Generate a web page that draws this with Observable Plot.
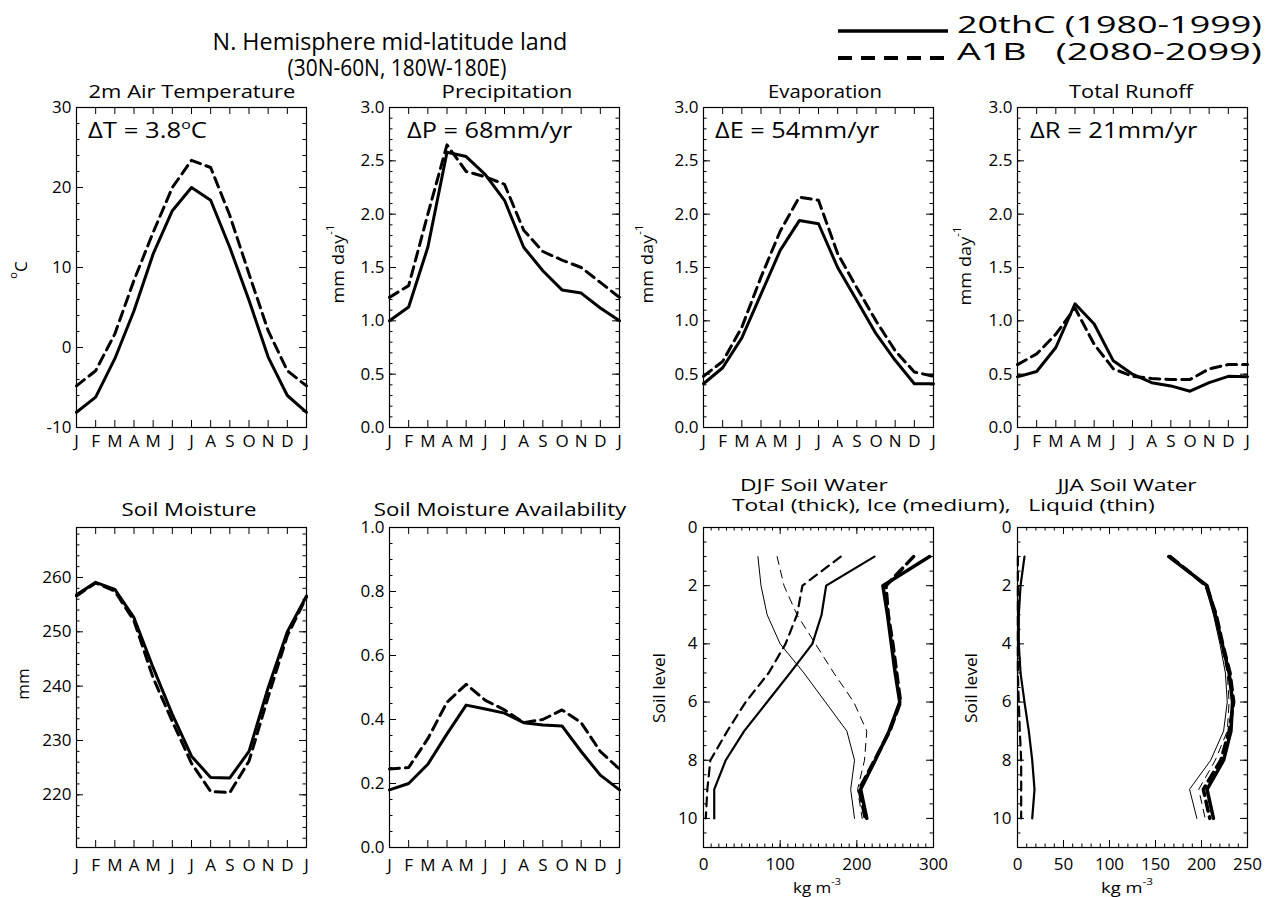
<!DOCTYPE html>
<html><head><meta charset="utf-8">
<script src="https://cdn.jsdelivr.net/npm/d3@7"></script>
<script src="https://cdn.jsdelivr.net/npm/@observablehq/plot@0.6"></script>
<style>
body{margin:0;background:#fff;}
#root{position:relative;width:1271px;height:897px;overflow:hidden;background:#fff;font-family:'Open Sans',sans-serif;}
#overlay{position:absolute;left:0;top:0;pointer-events:none;}
</style></head><body><div id="root"></div>
<script>
// ---------- data ----------
const months = ["J","F","M","A","M","J","J","A","S","O","N","D","J"];
const monthIdx = [0,1,2,3,4,5,6,7,8,9,10,11,12];
const soilLevels = [1,2,3,4,5,6,7,8,9,10];

// 2m air temperature (°C)
const temp20thC = [-8.1,-6.2,-1.4,4.6,11.7,17.1,20.0,18.4,12.5,5.9,-1.2,-6.0,-8.1];
const tempA1B   = [-4.8,-2.9,1.7,8.4,14.4,20.0,23.4,22.5,16.5,9.2,2.1,-2.9,-4.8];
// precipitation (mm/day)
const precip20thC = [1.00,1.13,1.69,2.58,2.54,2.37,2.13,1.69,1.47,1.29,1.26,1.12,1.00];
const precipA1B   = [1.22,1.33,2.00,2.65,2.40,2.35,2.28,1.85,1.65,1.57,1.50,1.36,1.22];
// evaporation (mm/day)
const evap20thC = [0.41,0.56,0.84,1.25,1.66,1.94,1.91,1.50,1.19,0.88,0.63,0.41,0.41];
const evapA1B   = [0.48,0.62,0.94,1.41,1.84,2.16,2.13,1.63,1.31,1.00,0.72,0.52,0.48];
// total runoff (mm/day)
const runoff20thC = [0.475,0.525,0.75,1.16,0.97,0.625,0.50,0.42,0.39,0.34,0.42,0.48,0.475];
const runoffA1B   = [0.59,0.69,0.875,1.12,0.78,0.55,0.48,0.46,0.45,0.45,0.55,0.59,0.59];
// soil moisture (mm)
const soil20thC = [256.8,259.1,257.8,252.6,243.4,234.8,227.1,223.2,223.1,228.0,239.7,250.0,256.6];
const soilA1B   = [256.6,259.0,257.5,252.0,241.5,233.5,225.8,220.6,220.4,226.2,238.0,249.3,256.4];
// soil moisture availability
const sma20thC = [0.18,0.20,0.26,0.355,0.445,0.433,0.42,0.39,0.383,0.38,0.30,0.226,0.18];
const smaA1B   = [0.245,0.25,0.34,0.454,0.51,0.46,0.43,0.39,0.40,0.43,0.39,0.30,0.245];
// DJF soil water by level (kg m-3)
const djfTotal20thC = [295,234,240,245,250,256,242,224,205,213];
const djfTotalA1B   = [274,238,241,247,252,257,243,223,203,211];
const djfIce20thC   = [223,160,154,142,113,83,53,29,14,14];
const djfIceA1B     = [179,129,122,107,85,55,31,9,5,3];
const djfLiq20thC   = [71,75,83,100,131,159,187,197,192,197];
const djfLiqA1B     = [96,105,122,146,170,196,213,210,201,207];
// JJA soil water by level (kg m-3)
const jjaTotal20thC = [164.5,206,215,222.5,230,233.7,232,224,206,213];
const jjaTotalA1B   = [166,205,216,223,231,235,230,221,202,209];
const jjaIce20thC   = [7.6,3.3,1.4,1.4,3.3,7.6,12.3,16,18.5,16];
const jjaIceA1B     = [0.4,0.4,0.4,0.4,0.4,1.4,2.5,4,4,4];
const jjaLiq20thC   = [164.5,204,213,220,226,228,224,210,187,195];
const jjaLiqA1B     = [165.6,205,214,221,228,230,228,215,197,204];

// ---------- layout ----------
const root = document.getElementById("root");
const ML = 60, MR = 8, MT = 8, MB = 50, FW = 230, FH = 320;
const STYLE = {fontFamily: "'Open Sans', sans-serif", fontSize: "17px", background: "transparent", color: "#000", overflow: "visible"};
const MAJ = 7, MIN = 3.5;

function place(svg, left, top) {
  svg.style.position = "absolute";
  svg.style.left = left + "px";
  svg.style.top = top + "px";
  svg.style.maxWidth = "none";
  root.appendChild(svg);
}

function inwardTicks(xMaj, xMin, yMaj, yMin) {
  const s = {stroke: "#000", strokeWidth: 1};
  return [
    Plot.tickX(xMaj, {x: d => d, insetTop: FH - MAJ, ...s}),
    Plot.tickX(xMaj, {x: d => d, insetBottom: FH - MAJ, ...s}),
    Plot.tickX(xMin, {x: d => d, insetTop: FH - MIN, ...s}),
    Plot.tickX(xMin, {x: d => d, insetBottom: FH - MIN, ...s}),
    Plot.tickY(yMaj, {y: d => d, insetRight: FW - MAJ, ...s}),
    Plot.tickY(yMaj, {y: d => d, insetLeft: FW - MAJ, ...s}),
    Plot.tickY(yMin, {y: d => d, insetRight: FW - MIN, ...s}),
    Plot.tickY(yMin, {y: d => d, insetLeft: FW - MIN, ...s})
  ];
}

function monthPanel(left, top, yDomain, yMajor, yMinor, yFmt, s20, sA1B, padX) {
  const svg = Plot.plot({
    width: FW + ML + MR, height: FH + MT + MB,
    marginLeft: ML, marginRight: MR, marginTop: MT, marginBottom: MB,
    x: {domain: [0, 12]}, y: {domain: yDomain},
    style: STYLE,
    marks: [
      ...inwardTicks(monthIdx, [], yMajor, yMinor),
      Plot.axisX(monthIdx, {tickSize: 0, tickPadding: padX, tickFormat: i => months[i], label: null}),
      Plot.axisY(yMajor, {tickSize: 0, tickPadding: 5, tickFormat: yFmt, label: null}),
      Plot.line(s20, {x: (d, i) => i, y: d => d, stroke: "#000", strokeWidth: 3}),
      Plot.line(sA1B, {x: (d, i) => i, y: d => d, stroke: "#000", strokeWidth: 3, strokeDasharray: "10,6"}),
      Plot.frame({stroke: "#000", strokeWidth: 1.2})
    ]
  });
  place(svg, left - ML, top - MT);
}

function soilPanel(left, top, xDomain, xMajor, xMinor, series) {
  const lineMarks = series.map(([vals, w, dash]) =>
    Plot.line(vals, {x: d => d, y: (d, i) => soilLevels[i], stroke: "#000", strokeWidth: w, strokeDasharray: dash}));
  const svg = Plot.plot({
    width: FW + ML + MR, height: FH + MT + MB,
    marginLeft: ML, marginRight: MR, marginTop: MT, marginBottom: MB,
    x: {domain: xDomain}, y: {domain: [0, 11], reverse: true},
    style: STYLE,
    marks: [
      ...inwardTicks(xMajor, xMinor, [0,2,4,6,8,10], d3.range(0, 11.01, 0.5)),
      Plot.axisX(xMajor, {tickSize: 0, tickPadding: 10, tickFormat: d => String(d), label: null}),
      Plot.axisY([0,2,4,6,8,10], {tickSize: 0, tickPadding: 6, tickFormat: d => String(d), label: null}),
      ...lineMarks,
      Plot.frame({stroke: "#000", strokeWidth: 1.2})
    ]
  });
  place(svg, left - ML, top - MT);
}

const fmt1 = d => d.toFixed(1);
const fmt0 = d => String(d);
const TOP = 107, BOT = 527;
const COLS = [76, 389, 703, 1017];

monthPanel(COLS[0], TOP, [-10, 30], [-10,0,10,20,30], d3.range(-10, 30.01, 2), fmt0, temp20thC, tempA1B, 7);
monthPanel(COLS[1], TOP, [0, 3], [0,0.5,1,1.5,2,2.5,3], d3.range(0, 3.001, 0.1), fmt1, precip20thC, precipA1B, 7);
monthPanel(COLS[2], TOP, [0, 3], [0,0.5,1,1.5,2,2.5,3], d3.range(0, 3.001, 0.1), fmt1, evap20thC, evapA1B, 7);
monthPanel(COLS[3], TOP, [0, 3], [0,0.5,1,1.5,2,2.5,3], d3.range(0, 3.001, 0.1), fmt1, runoff20thC, runoffA1B, 7);
monthPanel(COLS[0], BOT, [210.3, 269.2], [220,230,240,250,260], d3.range(212, 269, 2), fmt0, soil20thC, soilA1B, 11);
monthPanel(COLS[1], BOT, [0, 1], [0,0.2,0.4,0.6,0.8,1], d3.range(0, 1.001, 0.05), fmt1, sma20thC, smaA1B, 11);

soilPanel(COLS[2], BOT, [0, 300], [0,100,200,300], d3.range(0, 300.1, 10), [
  [djfTotal20thC, 3.5, null], [djfTotalA1B, 3.5, "10,6"],
  [djfIce20thC, 2.2, null], [djfIceA1B, 2.2, "9,6"],
  [djfLiq20thC, 1, null], [djfLiqA1B, 1, "8,6"]
]);
soilPanel(COLS[3], BOT, [0, 250], [0,50,100,150,200,250], d3.range(0, 250.1, 10), [
  [jjaTotal20thC, 3.5, null], [jjaTotalA1B, 3.5, "10,6"],
  [jjaIce20thC, 2.2, null], [jjaIceA1B, 2.2, "9,6"],
  [jjaLiq20thC, 1, null], [jjaLiqA1B, 1, "8,6"]
]);

// ---------- overlay text ----------
const NS = "http://www.w3.org/2000/svg";
const overlay = document.createElementNS(NS, "svg");
overlay.setAttribute("id", "overlay");
overlay.setAttribute("width", 1271);
overlay.setAttribute("height", 897);
overlay.setAttribute("font-family", "'Open Sans', sans-serif");
root.appendChild(overlay);

function el(tag, attrs, parent) {
  const e = document.createElementNS(NS, tag);
  for (const k in attrs) if (attrs[k] != null) e.setAttribute(k, attrs[k]);
  if (parent) parent.appendChild(e);
  return e;
}
function label(parts, {x, y, size = 17, anchor = "middle", width = null, rotate = 0, baseline = "alphabetic"}) {
  const g = el("g", {}, overlay);
  const t = el("text", {"font-size": size, "text-anchor": anchor, "dominant-baseline": baseline, fill: "#000", style: "white-space:pre"}, g);
  for (const p of parts) {
    const [str, sup] = typeof p === "string" ? [p, false] : p;
    const ts = el("tspan", sup ? {"baseline-shift": "super", "font-size": Math.round(size * 0.62)} : {}, t);
    ts.textContent = str;
  }
  let sx = 1;
  if (width) { const bw = t.getBBox().width; if (bw > 0) sx = width / bw; }
  g.setAttribute("transform", `translate(${x},${y}) rotate(${rotate}) scale(${sx},1)`);
  return g;
}

// main title
label(["N. Hemisphere mid-latitude land"], {x: 390, y: 50, size: 23, width: 355});
label(["(30N-60N, 180W-180E)"], {x: 397, y: 76, size: 23, width: 219});
// legend
el("line", {x1: 838, x2: 948, y1: 31, y2: 31, stroke: "#000", "stroke-width": 3.5}, overlay);
el("line", {x1: 838, x2: 948, y1: 58, y2: 58, stroke: "#000", "stroke-width": 4, "stroke-dasharray": "14,9"}, overlay);
label(["20thC (1980-1999)"], {x: 957, y: 33, size: 23, anchor: "start", width: 305});
label(["A1B   (2080-2099)"], {x: 957, y: 60, size: 23, anchor: "start", width: 305});

// panel titles
label(["2m Air Temperature"], {x: 192, y: 98, size: 18, width: 207});
label(["Precipitation"], {x: 507, y: 98, size: 18, width: 131});
label(["Evaporation"], {x: 825, y: 98, size: 18, width: 114});
label(["Total Runoff"], {x: 1131, y: 98, size: 18, width: 125});
label(["Soil Moisture"], {x: 189, y: 516, size: 18, width: 135});
label(["Soil Moisture Availability"], {x: 500, y: 516, size: 18, width: 254});
label(["DJF Soil Water"], {x: 814, y: 491, size: 17, width: 148});
label(["JJA Soil Water"], {x: 1127, y: 491, size: 17, width: 142});
label(["Total (thick), Ice (medium),   Liquid (thin)"], {x: 732, y: 511, size: 17, anchor: "start", width: 423});

// delta annotations
label(["ΔT = 3.8", ["o", true], "C"], {x: 88, y: 138, size: 21, anchor: "start", width: 119});
label(["ΔP = 68mm/yr"], {x: 407, y: 138, size: 21, anchor: "start", width: 166});
label(["ΔE = 54mm/yr"], {x: 715, y: 138, size: 21, anchor: "start", width: 165});
label(["ΔR = 21mm/yr"], {x: 1030, y: 138, size: 21, anchor: "start", width: 168});

// axis labels
label([["o", true], "C"], {x: 20, y: 270, size: 17, rotate: -90, baseline: "central"});
label(["mm day", ["-1", true]], {x: 337, y: 264, size: 16, rotate: -90, baseline: "central", width: 79});
label(["mm day", ["-1", true]], {x: 646, y: 264, size: 16, rotate: -90, baseline: "central", width: 79});
label(["mm day", ["-1", true]], {x: 964, y: 266, size: 16, rotate: -90, baseline: "central", width: 79});
label(["mm"], {x: 22, y: 684, size: 17, rotate: -90, baseline: "central"});
label(["Soil level"], {x: 658, y: 688, size: 17, rotate: -90, baseline: "central", width: 70});
label(["Soil level"], {x: 970, y: 688, size: 17, rotate: -90, baseline: "central", width: 70});
label(["kg m", ["-3", true]], {x: 817, y: 888, size: 14, baseline: "central", width: 48});
label(["kg m", ["-3", true]], {x: 1127, y: 888, size: 14, baseline: "central", width: 52});
</script>
</body></html>
